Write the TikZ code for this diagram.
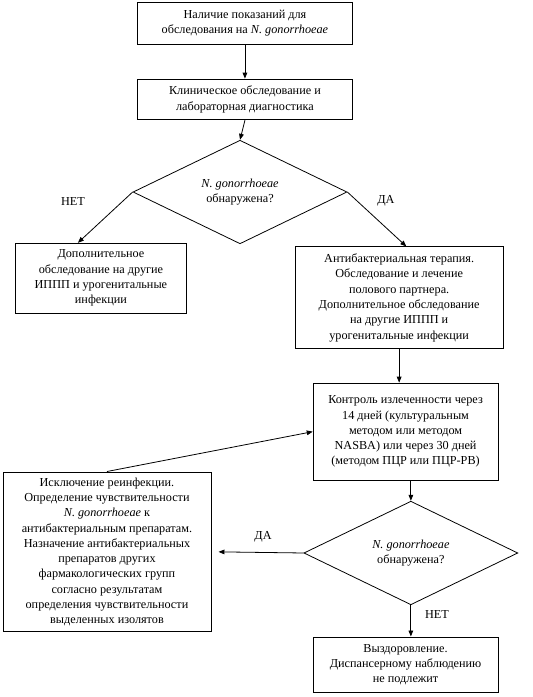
\documentclass[tikz,border=0pt]{standalone}
\usepackage{fontspec}
\setmainfont{Liberation Serif}
\usetikzlibrary{shapes.geometric,arrows.meta,positioning,calc}
\newcommand{\boxfont}{\rmfamily\fontsize{9.2}{11.5}\selectfont}
\newcommand{\gononame}{\textit{N. gonorrhoeae}}
\begin{document}
\begin{tikzpicture}[
  box/.style={rectangle, draw=black, line width=0.6pt,
    inner sep=1pt, font=\boxfont, align=center},
  decbox/.style={diamond, draw=black, line width=0.6pt,
    inner sep=0pt, minimum width=5.66cm, minimum height=1.96cm,
    font=\boxfont, align=center},
  lbl/.style={font=\boxfont},
  arr/.style={-{Triangle[length=4.5pt,width=3.5pt]}, line width=0.6pt}
]
\useasboundingbox (0,0) rectangle (14.10,-18.44);
\node[box, minimum width=5.71cm, minimum height=1.11cm] (start) at (6.48,-0.61)
  {Наличие показаний для\\обследования на \gononame};
\node[box, minimum width=5.71cm, minimum height=1.08cm] (exam) at (6.48,-2.63)
  {Клиническое обследование и\\лабораторная диагностика};
\node[decbox] (dec1) at (6.35,-5.08) {\gononame\\обнаружена?};
\node[box, minimum width=4.50cm, minimum height=1.85cm] (extra) at (2.67,-7.36)
  {Дополнительное\\обследование на другие\\ИППП и урогенитальные\\инфекции};
\node[box, minimum width=5.50cm, minimum height=2.70cm] (therapy) at (10.56,-7.88)
  {Антибактериальная терапия.\\Обследование и лечение\\полового партнера.\\Дополнительное обследование\\на другие ИППП и\\урогенитальные инфекции};
\node[box, minimum width=4.89cm, minimum height=2.57cm] (control) at (10.73,-11.42)
  {Контроль излеченности через\\14 дней (культуральным\\методом или методом\\NASBA) или через 30 дней\\(методом ПЦР или ПЦР-РВ)};
\node[box, minimum width=5.50cm, minimum height=4.23cm] (reinf) at (2.83,-14.60)
  {Исключение реинфекции.\\Определение чувствительности\\\gononame{} к\\антибактериальным препаратам.\\Назначение антибактериальных\\препаратов других\\фармакологических групп\\согласно результатам\\определения чувствительности\\выделенных изолятов};
\node[decbox] (dec2) at (10.87,-14.63) {\gononame\\обнаружена?};
\node[box, minimum width=4.89cm, minimum height=1.46cm] (cure) at (10.73,-17.58)
  {Выздоровление.\\Диспансерному наблюдению\\не подлежит};
% labels
\node[lbl] (no1)  at (1.93,-5.32)  {НЕТ};
\node[lbl] (yes1) at (10.21,-5.32) {ДА};
\node[lbl] (yes2) at (6.96,-14.21) {ДА};
\node[lbl] (no2)  at (11.56,-16.27) {НЕТ};
% arrows
\draw[arr] (start) -- (exam);
\draw[arr] (exam.south) -- (dec1.north);
\draw[arr] (dec1.west) -- ($(extra.north)+(-0.61,0)$);
\draw[arr] (dec1.east) -- ($(therapy.north)+(0.19,0)$);
\draw[arr] (therapy.south) -- (therapy.south |- control.north);
\draw[arr] (reinf.north) -- (control.west);
\draw[arr] (dec2.north |- control.south) -- (dec2.north);
\draw[arr] (dec2.west) -- ($(reinf.east)+(0.19,0)$);
\draw[arr] (dec2.south) -- (dec2.south |- cure.north);
\end{tikzpicture}
\end{document}
